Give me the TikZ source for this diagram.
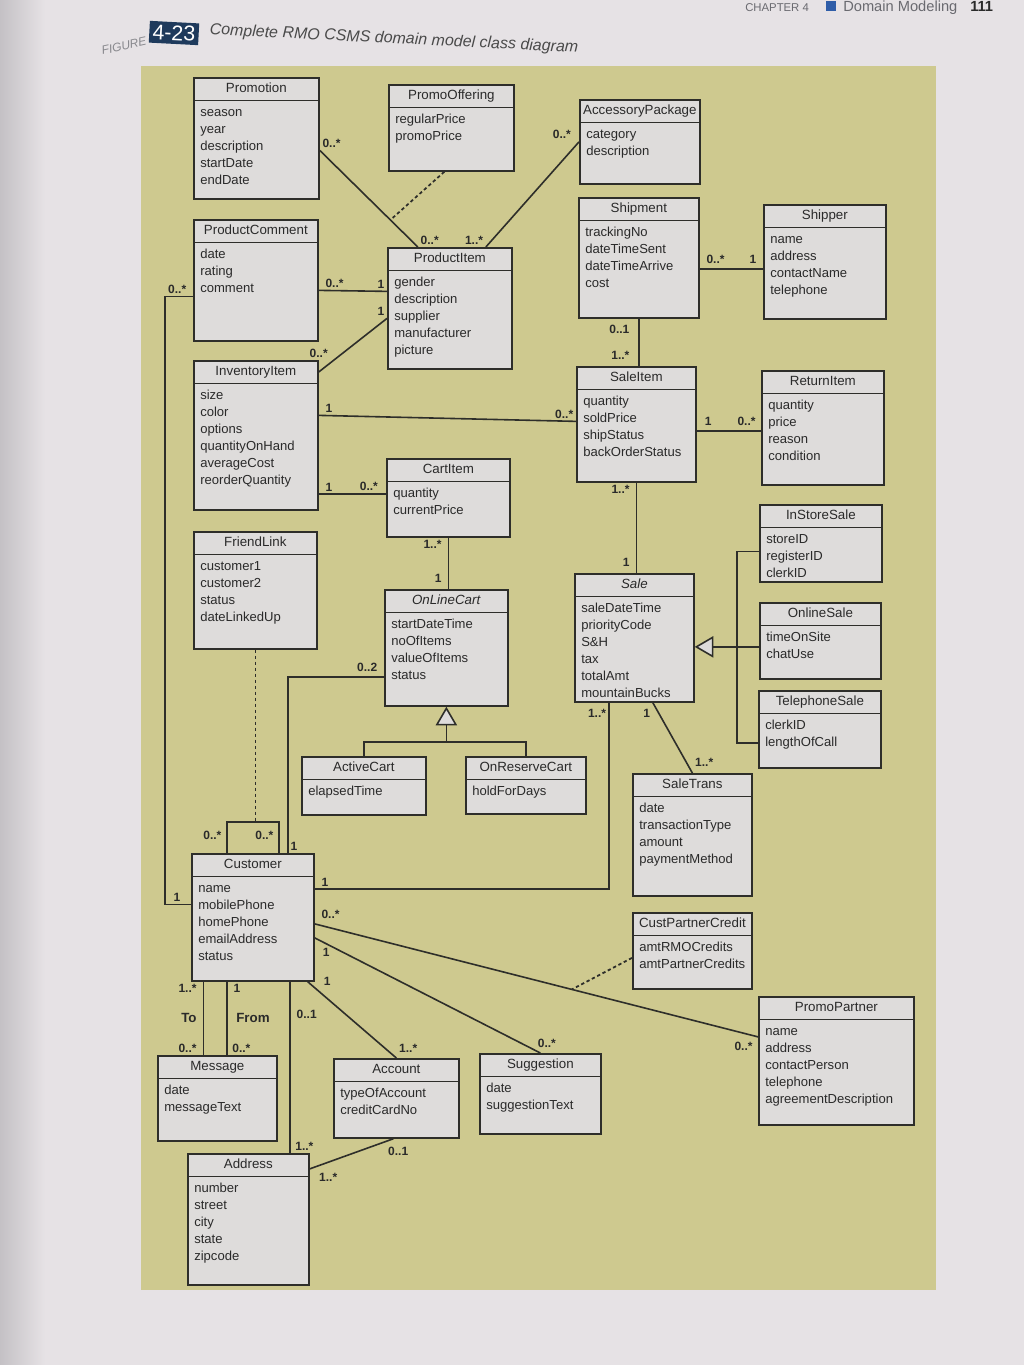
\documentclass[tikz,border=0pt]{standalone}
\usepackage{fontspec}
\setmainfont{Liberation Sans}
\usetikzlibrary{arrows.meta}

\definecolor{pagebg}{HTML}{E6E2E5}
\definecolor{gutter}{HTML}{C4C1C5}
\definecolor{panel}{HTML}{CEC98F}
\definecolor{boxfill}{HTML}{DEDCDB}
\definecolor{linec}{HTML}{2E2E2A}
\definecolor{textc}{HTML}{2A2A2A}
\definecolor{figblue}{HTML}{1E3A5C}
\definecolor{chapblue}{HTML}{2F5DA8}
\definecolor{chapgray}{HTML}{6A6A70}

\tikzset{
  classbox/.style={draw=linec, fill=boxfill, line width=1.3pt, inner sep=0pt},
  classline/.style={draw=linec, line width=1.3pt},
  classhead/.style={anchor=north, inner sep=0pt, minimum height=17.25pt, text height=8pt, text depth=2.5pt, text=textc, font=\fontsize{10}{12}\selectfont},
  classattr/.style={anchor=north west, inner sep=0pt, align=left, text=textc, font=\fontsize{9.8}{12.75}\selectfont},
  mult/.style={inner sep=1.5pt, text=textc, font=\bfseries\fontsize{9}{10}\selectfont},
  role/.style={mult, font=\bfseries\fontsize{10}{11}\selectfont},
  assoc/.style={draw=linec, line width=1.2pt},
  assocclass/.style={draw=linec, line width=1.3pt, dash pattern=on 2.5pt off 2pt},
  gen/.style={assoc, -{Triangle[length=14pt, width=16pt, fill=boxfill, line width=1.2pt]}}
}

% name, x, y, width, height, title, attributes
\newcommand{\umlclass}[7]{%
  \node[classbox, minimum width=#4*0.75pt, minimum height=#5*0.75pt, anchor=north west] (#1) at (#2,#3) {};
  \node[classhead] (#1-head) at (#1.north) {#6};
  \draw[classline] (#1-head.south -| #1.west) -- (#1-head.south -| #1.east);
  \node[classattr] (#1-attr) at ([shift={(7,27)}]#1.north west) {\strut#7};
}

\begin{document}
\begin{tikzpicture}[x=0.75pt, y=-0.75pt]
  \useasboundingbox (0,0) rectangle (1024,1365);
  \fill[pagebg] (0,0) rectangle (1024,1365);
  \shade[left color=gutter, right color=pagebg] (0,0) rectangle (45,1365);
  \fill[panel] (141,66) rectangle (936,1290);

  \node[text=chapgray!80, font=\itshape\fontsize{9}{10}\selectfont, rotate=12] (figword) at (124,46) {FIGURE};
  \node[fill=figblue, text=white, font=\fontsize{16}{17}\selectfont, inner sep=2.5pt, rotate=-3] (fignum) at (174,33) {4-23};
  \node[anchor=west, text=textc!85, font=\itshape\fontsize{12}{14}\selectfont, rotate=-2.8] (figcap) at (205,30) {Complete RMO CSMS domain model class diagram};
  \node[anchor=base west, text=chapgray, font=\fontsize{8.5}{10}\selectfont, inner sep=0pt] (chapword) at (745,11) {CHAPTER 4};
  \fill[chapblue] (826,1) rectangle (836,11);
  \node[anchor=base west, text=chapgray, font=\fontsize{11}{12}\selectfont, inner sep=0pt] (chaptitle) at (843,11) {Domain Modeling};
  \node[anchor=base west, text=textc, font=\bfseries\fontsize{11}{12}\selectfont, inner sep=0pt] (pagenum) at (970,11) {111};

  \umlclass{promo}{193}{77}{125}{121}{Promotion}{season\\year\\description\\startDate\\endDate}
  \umlclass{offering}{388}{84}{125}{86}{PromoOffering}{regularPrice\\promoPrice}
  \umlclass{accessory}{579}{99}{120}{84}{AccessoryPackage}{category\\description}
  \umlclass{comment}{193}{219}{124}{121}{ProductComment}{date\\rating\\comment}
  \umlclass{item}{387}{247}{124}{121}{ProductItem}{gender\\description\\supplier\\manufacturer\\picture}
  \umlclass{shipment}{578}{197}{120}{120}{Shipment}{trackingNo\\dateTimeSent\\dateTimeArrive\\cost}
  \umlclass{shipper}{763}{204}{122}{114}{Shipper}{name\\address\\contactName\\telephone}
  \umlclass{inv}{193}{360}{124}{149}{InventoryItem}{size\\color\\options\\quantityOnHand\\averageCost\\reorderQuantity}
  \umlclass{saleitem}{576}{366}{119}{115}{SaleItem}{quantity\\soldPrice\\shipStatus\\backOrderStatus}
  \umlclass{returnitem}{761}{370}{122}{114}{ReturnItem}{quantity\\price\\reason\\condition}
  \umlclass{cartitem}{386}{458}{123}{78}{CartItem}{quantity\\currentPrice}
  \umlclass{friend}{193}{531}{123}{117}{FriendLink}{customer1\\customer2\\status\\dateLinkedUp}
  \umlclass{instore}{759}{504}{122}{77}{InStoreSale}{storeID\\registerID\\clerkID}
  \umlclass{sale}{574}{573}{119}{128}{\textit{Sale}}{saleDateTime\\priorityCode\\S\&H\\tax\\totalAmt\\mountainBucks}
  \umlclass{online}{759}{602}{121}{76}{OnlineSale}{timeOnSite\\chatUse}
  \umlclass{olcart}{384}{589}{123}{116}{\textit{OnLineCart}}{startDateTime\\noOfItems\\valueOfItems\\status}
  \umlclass{telsale}{758}{690}{122}{77}{TelephoneSale}{clerkID\\lengthOfCall}
  \umlclass{active}{301}{756}{124}{58}{ActiveCart}{elapsedTime}
  \umlclass{reserve}{465}{756}{120}{57}{OnReserveCart}{holdForDays}
  \umlclass{saletrans}{632}{773}{119}{122}{SaleTrans}{date\\transactionType\\amount\\paymentMethod}
  \umlclass{customer}{191}{853}{122}{127}{Customer}{name\\mobilePhone\\homePhone\\emailAddress\\status}
  \umlclass{custcredit}{632}{912}{119}{76}{CustPartnerCredit}{amtRMOCredits\\amtPartnerCredits}
  \umlclass{partner}{758}{996}{155}{128}{PromoPartner}{name\\address\\contactPerson\\telephone\\agreementDescription}
  \umlclass{message}{157}{1055}{119}{85}{Message}{date\\messageText}
  \umlclass{account}{333}{1058}{125}{79}{Account}{typeOfAccount\\creditCardNo}
  \umlclass{suggestion}{479}{1053}{121}{80}{Suggestion}{date\\suggestionText}
  \umlclass{address}{187}{1153}{121}{131}{Address}{number\\street\\city\\state\\zipcode}

  \draw[assoc] ([shift={(0,12)}]promo.east) node[mult, anchor=south west] {0..*}
    -- coordinate[pos=0.72] (offerjoin) ([shift={(-32,0)}]item.north) node[mult, anchor=south west] {0..*};
  \draw[assocclass] ([shift={(-7,0)}]offering.south) -- (offerjoin);
  \draw[assoc] (accessory.west) node[mult, anchor=south east, xshift=-4pt] {0..*}
    -- ([shift={(36,0)}]item.north) node[mult, anchor=south east] {1..*};
  \draw[assoc] ([shift={(0,10)}]comment.east) node[mult, anchor=south west, xshift=3pt] {0..*}
    -- ([shift={(0,-17)}]item.west) node[mult, anchor=south east] {1};
  \draw[assoc] ([shift={(0,12)}]inv.north east) node[mult, anchor=south, yshift=9pt] {0..*}
    -- ([shift={(0,10)}]item.west) node[mult, anchor=south east] {1};
  \draw[assoc] ([shift={(0,16)}]comment.west) node[mult, anchor=south east, xshift=-3pt] {0..*}
    -- ++(-28,0) |- ([shift={(0,-13)}]customer.west) node[mult, anchor=south east, xshift=-6pt] {1};
  \draw[assoc] ([shift={(0,-20)}]inv.east) node[mult, anchor=south west, xshift=3pt] {1}
    -- ([shift={(0,-3)}]saleitem.west) node[mult, anchor=south east] {0..*};
  \draw[assoc] ([shift={(0,58.5)}]inv.east) node[mult, anchor=south west, xshift=3pt] {1}
    -- ([shift={(0,-4)}]cartitem.west) node[mult, anchor=south east, xshift=-4pt] {0..*};
  \draw[assoc] ([shift={(0,11)}]shipment.east) node[mult, anchor=south west, xshift=3pt, yshift=2pt] {0..*}
    -- ([shift={(0,7)}]shipper.west) node[mult, anchor=south east, xshift=-3pt, yshift=2pt] {1};
  \draw[assoc] (shipment.south) node[mult, anchor=north east, xshift=-5pt, yshift=-3pt] {0..1}
    -- (shipment.south |- saleitem.north) node[mult, anchor=south east, xshift=-5pt, yshift=3pt] {1..*};
  \draw[assoc] ([shift={(0,6.5)}]saleitem.east) node[mult, anchor=south west, xshift=4pt, yshift=2pt] {1}
    -- ([shift={(0,3)}]returnitem.west) node[mult, anchor=south east, xshift=-2pt, yshift=2pt] {0..*};
  \draw[assoc] (saleitem.south) node[mult, anchor=north east, xshift=-3pt] {1..*}
    -- (saleitem.south |- sale.north) node[mult, anchor=south east, xshift=-3pt, yshift=3pt] {1};
  \draw[assoc] (cartitem.south) node[mult, anchor=north east, xshift=-3pt] {1..*}
    -- (cartitem.south |- olcart.north) node[mult, anchor=south east, xshift=-3pt, yshift=3pt] {1};

  \coordinate (salejoin) at ([shift={(42,9)}]sale.east);
  \draw[assoc] ([shift={(0,8)}]instore.west) -| (salejoin) |- ([shift={(0,13.5)}]telsale.west);
  \draw[assoc] (online.west |- salejoin) -- (salejoin);
  \draw[gen] (salejoin) -- (sale.east |- salejoin);

  \coordinate (cartjoin) at ([shift={(0,35)}]olcart.south);
  \draw[assoc] (active.north) |- (cartjoin) -| (reserve.north);
  \draw[gen] (cartjoin) -- (olcart.south);

  \draw[assoc] ([shift={(0,29)}]olcart.west) node[mult, anchor=south east, xshift=-3pt, yshift=2pt] {0..2}
    -| ([shift={(35,0)}]customer.north) node[mult, anchor=south west] {1};
  \draw[assoc] ([shift={(-25.5,0)}]sale.south) node[mult, anchor=north east, yshift=-3pt] {1..*}
    |- ([shift={(0,-28.5)}]customer.east) node[mult, anchor=south west, xshift=3pt] {1};
  \draw[assoc] ([shift={(18.5,0)}]sale.south) node[mult, anchor=north east, yshift=-3pt] {1}
    -- (saletrans.north) node[mult, anchor=south west, yshift=3pt] {1..*};

  \draw[assoc] ([shift={(-26,0)}]customer.north) node[mult, anchor=south east, xshift=-2pt, yshift=8pt] {0..*}
    -- ++(0,-31) -- coordinate (friendjoin) ++(52,0)
    -- ([shift={(26,0)}]customer.north) node[mult, anchor=south east, xshift=-2pt, yshift=8pt] {0..*};
  \draw[assocclass] (friend.south) -- (friend.south |- friendjoin);

  \draw[assoc] ([shift={(0,6.5)}]customer.east) node[mult, anchor=south west, xshift=3pt, yshift=2pt] {0..*}
    -- coordinate[pos=0.58] (creditjoin) ([shift={(0,-24)}]partner.west) node[mult, anchor=north east, xshift=-2pt, yshift=-2pt] {0..*};
  \draw[assocclass] ([shift={(0,7)}]custcredit.west) -- (creditjoin);
  \draw[assoc] ([shift={(0,20.5)}]customer.east) node[mult, anchor=north west, xshift=4pt, yshift=-6pt] {1}
    -- (suggestion.north) node[mult, anchor=south west, xshift=-4pt, yshift=2pt] {0..*};
  \draw[assoc] ([shift={(-7,0)}]customer.south east) node[mult, anchor=west, xshift=10pt] {1}
    -- (account.north) node[mult, anchor=south west, yshift=2pt] {1..*};

  \draw[assoc] ([shift={(-14,0)}]message.north) node[mult, anchor=south east, xshift=-3pt] {0..*}
    -- node[role, anchor=east, xshift=-3pt] {To}
    ([shift={(-49.5,0)}]customer.south) node[mult, anchor=north east, xshift=-3pt] {1..*};
  \draw[assoc] ([shift={(9.5,0)}]message.north) node[mult, anchor=south west, xshift=2pt] {0..*}
    -- node[role, anchor=west, xshift=5pt] {From}
    ([shift={(-26,0)}]customer.south) node[mult, anchor=north west, xshift=3pt] {1};
  \draw[assoc] ([shift={(37,0)}]customer.south)
    -- node[mult, pos=0.19, anchor=west, xshift=3pt] {0..1}
    ([shift={(41.5,0)}]address.north) node[mult, anchor=south west, xshift=2pt] {1..*};
  \draw[assoc] ([shift={(-3,0)}]account.south) node[mult, anchor=north west, xshift=-6pt, yshift=-4pt] {0..1}
    -- ([shift={(0,-50.5)}]address.east) node[mult, anchor=north west, xshift=5pt, yshift=-1pt] {1..*};
\end{tikzpicture}
\end{document}
